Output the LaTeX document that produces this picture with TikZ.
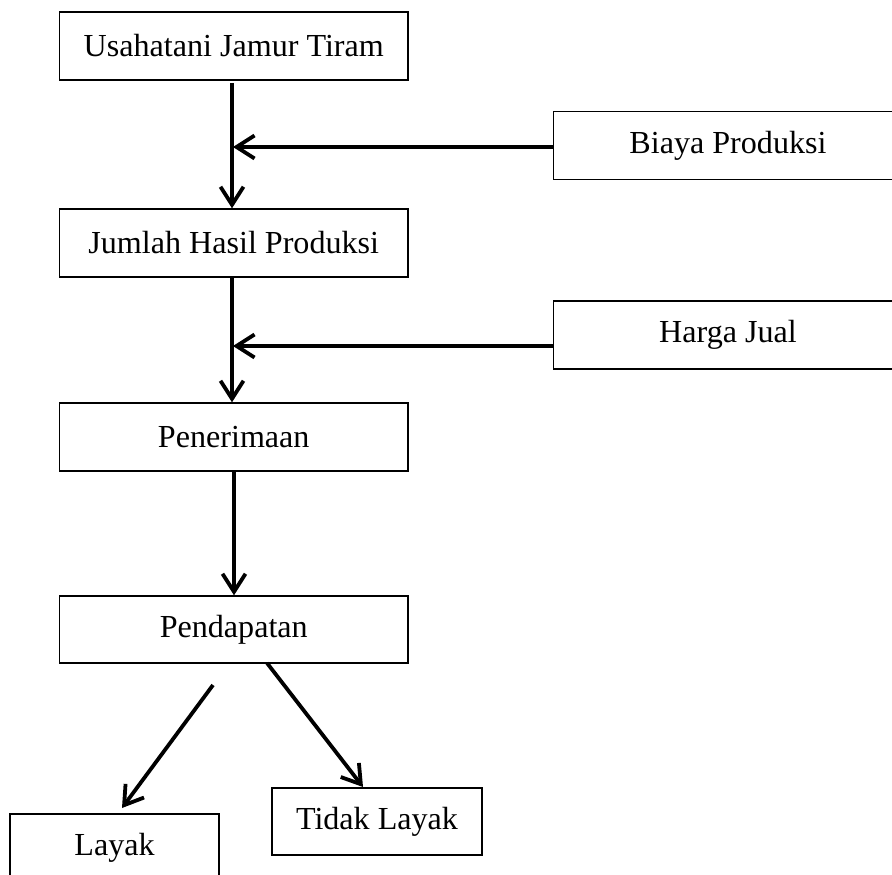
\documentclass[tikz,border=0pt]{standalone}
\usepackage{fontspec}
\setmainfont{Liberation Serif}
\usetikzlibrary{arrows.meta,calc}
\begin{document}
\begin{tikzpicture}[x=1pt,y=-1pt,
  box/.style={draw, line width=1.4pt, minimum width=348.5pt, minimum height=68pt, inner sep=0pt,
    font=\fontsize{32.1}{38}\selectfont},
  arr/.style={line width=3.8pt, -{Straight Barb[length=18pt,width=23pt,line width=3.8pt]}}]
\useasboundingbox (0,0) rectangle (892,875);
\fill[white] (0,0) rectangle (892,875);
\clip (0,0) rectangle (892,875);

\node[box] (u) at (233.75,46) {Usahatani Jamur Tiram};
\node[box] (j) at (233.75,243) {Jumlah Hasil Produksi};
\node[box] (pe) at (233.75,437) {Penerimaan};
\node[box, minimum height=67pt] (pd) at (233.75,629.5) {Pendapatan};
\node[box] (b) at (728,145.5) {Biaya Produksi};
\node[box] (h) at (728,335) {Harga Jual};
\node[box, minimum width=209pt] (l) at (114.5,848) {Layak};
\node[box, minimum width=210pt, minimum height=67pt] (t) at (377,821.5) {Tidak Layak};

\coordinate (m1) at (233,147);
\coordinate (m2) at (233,346);
\coordinate (ls) at (213,685);
\coordinate (le) at (122,808);
\coordinate (rs) at (267,663);
\coordinate (re) at (363,787);

\draw[arr] (232,83) -- (j.north -| 232,0);
\draw[arr] (j.south -| 232,0) -- (pe.north -| 232,0);
\draw[arr] (pe.south -| 234,0) -- (pd.north -| 234,0);
\draw[arr] (b.west |- m1) -- (m1);
\draw[arr] (h.west |- m2) -- (m2);
\draw[arr] (ls) -- (le);
\draw[arr] (rs) -- (re);
\end{tikzpicture}
\end{document}
